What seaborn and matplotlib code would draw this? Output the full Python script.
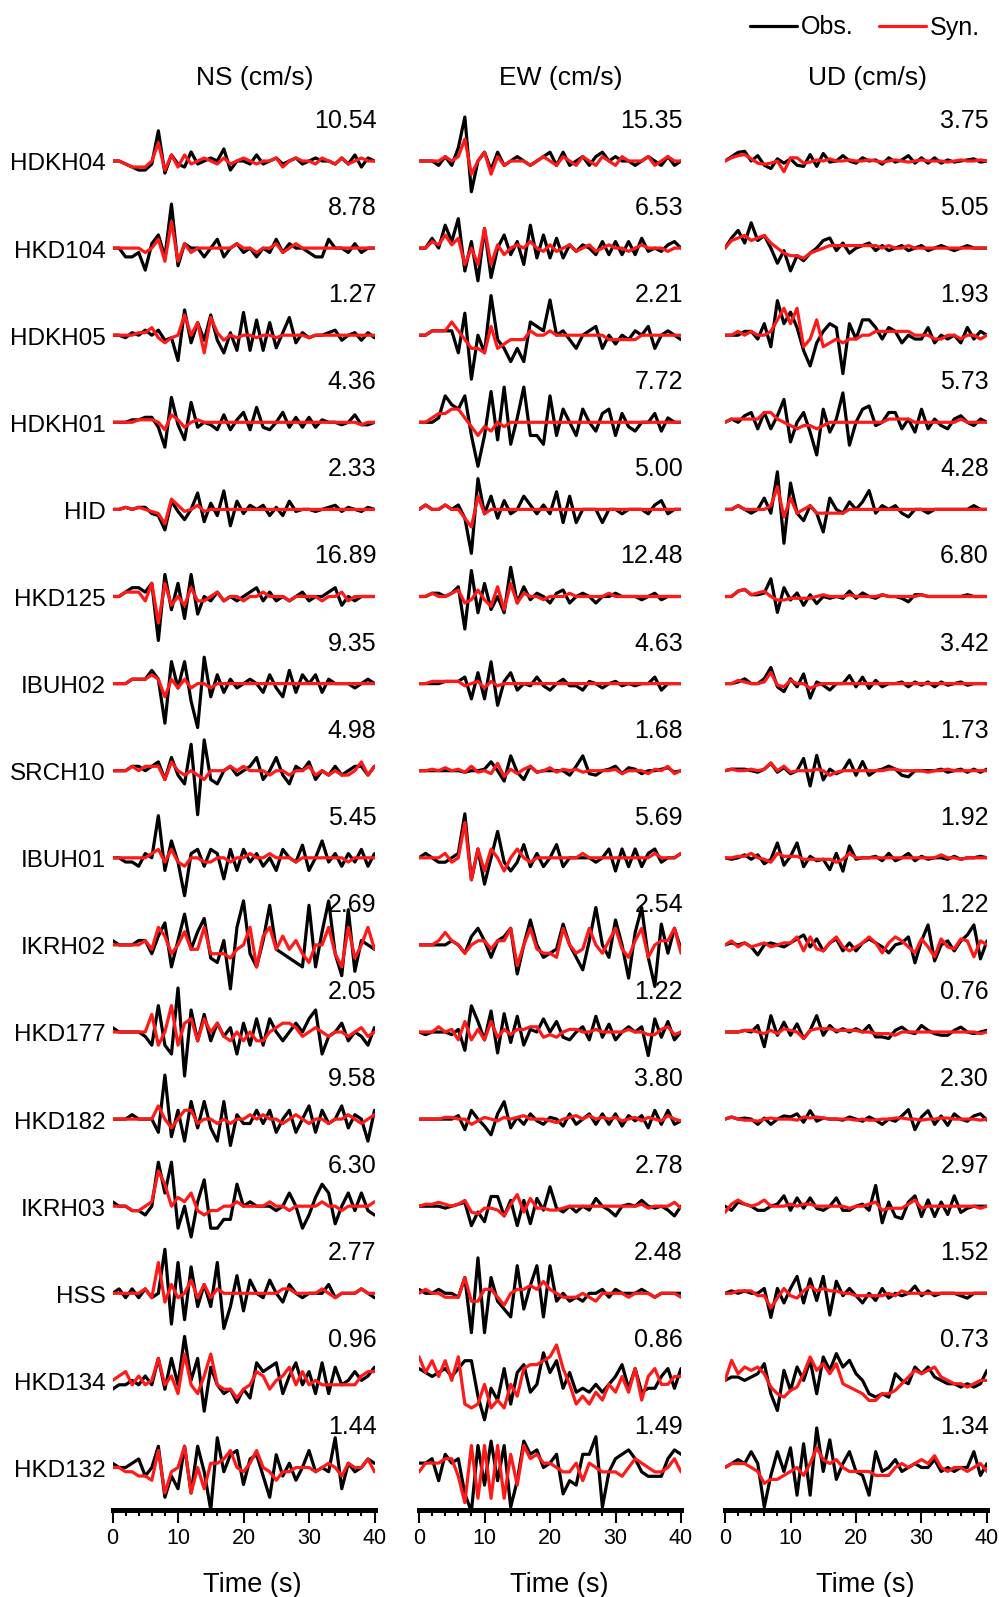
import numpy as np
import matplotlib
matplotlib.use('Agg')
import matplotlib.pyplot as plt
from matplotlib.lines import Line2D
import seaborn as sns

# stations (top to bottom) and peak obs amplitude of each component (cm/s)
stations = ['HDKH04', 'HKD104', 'HDKH05', 'HDKH01', 'HID', 'HKD125', 'IBUH02', 'SRCH10',
            'IBUH01', 'IKRH02', 'HKD177', 'HKD182', 'IKRH03', 'HSS', 'HKD134', 'HKD132']
peak_ns = [10.54, 8.78, 1.27, 4.36, 2.33, 16.89, 9.35, 4.98, 5.45, 2.69, 2.05, 9.58, 6.30, 2.77, 0.96, 1.44]
peak_ew = [15.35, 6.53, 2.21, 7.72, 5.00, 12.48, 4.63, 1.68, 5.69, 2.54, 1.22, 3.80, 2.78, 2.48, 0.86, 1.49]
peak_ud = [3.75, 5.05, 1.93, 5.73, 4.28, 6.80, 3.42, 1.73, 1.92, 1.22, 0.76, 2.30, 2.97, 1.52, 0.73, 1.34]

# waveforms, one value per second (0-40 s),
# in tenths of the trace's own obs peak
ns_obs = [
    [0,0,-1,-2,-3,-3,-1,10,-4,2,-1,-2,3,-1,0,1,0,4,-3,0,0,-1,2,-1,0,1,-1,0,1,-1,0,1,0,0,-1,1,-1,2,-2,1,0],
    [0,0,-2,-2,-1,-5,1,3,-2,10,-4,1,0,0,-2,0,2,-2,0,1,-1,0,-2,0,-1,2,-1,1,0,0,-1,-2,-2,2,0,0,-1,1,-1,0,0],
    [0,0,-1,1,0,2,0,2,-2,-1,-10,10,-3,5,-2,8,-2,-7,1,-6,9,-6,6,-6,5,-5,1,7,-3,1,-1,0,0,1,2,-2,0,1,-2,1,-1],
    [0,0,0,1,1,2,2,-2,-10,10,-1,-7,8,-2,0,-1,-3,3,-3,1,4,-3,6,-2,-3,0,4,-2,2,-2,2,-2,1,0,0,-1,0,3,-1,-1,0],
    [0,0,1,0,1,1,-2,-3,-10,4,-1,-5,0,8,-6,3,-3,9,-8,4,-2,2,0,2,-3,1,-3,4,-1,0,0,-1,0,1,2,-1,1,0,-1,1,0],
    [0,0,1,2,2,1,3,-10,5,-3,3,-5,5,-4,0,-1,1,-1,0,-1,0,1,2,-1,1,-1,0,-1,0,1,-1,0,0,1,2,-2,0,-1,0,0,0],
    [0,0,0,1,1,1,3,1,-9,5,-1,5,-4,-10,6,-3,2,-2,1,-1,0,1,0,-2,2,-1,-3,3,-2,2,0,2,-2,1,0,0,0,-1,0,1,0],
    [0,0,0,1,1,0,1,2,-2,3,-1,-3,6,-10,7,-2,-3,0,1,-1,0,1,3,-2,0,3,-1,-3,1,0,2,-2,0,-1,1,-1,0,1,1,-1,1],
    [0,0,-1,-1,-2,1,0,10,-3,4,-1,-9,1,2,-2,2,1,-5,2,-3,2,-1,1,-2,0,-3,2,0,-1,3,-3,0,4,-1,1,-2,1,-1,2,-2,1],
    [1,0,0,0,1,1,-2,2,5,-5,1,7,-1,3,6,-3,-4,1,-10,4,10,-2,-5,1,9,-1,-2,-3,-4,-5,9,-5,3,10,-2,-7,8,-6,1,0,-1],
    [1,0,0,0,0,-1,-3,6,-3,-5,10,-10,5,-2,4,-2,2,-1,1,-5,2,-3,3,-3,3,0,-2,0,2,0,3,5,-5,-1,0,2,-2,0,-1,-3,1],
    [0,0,0,1,0,0,0,-3,10,-4,2,-5,4,-2,4,-2,-5,4,-6,1,-1,-1,2,-1,2,-3,0,2,-3,0,3,-3,2,-1,0,3,-2,1,0,-5,2],
    [1,0,0,-1,-1,-2,0,10,3,10,-5,0,-7,1,6,-5,-5,-3,-3,5,0,1,0,0,0,-1,0,3,0,-5,-2,2,5,3,-4,0,3,-1,3,-1,-2],
    [0,1,-1,1,-1,1,-1,0,10,-7,7,-6,6,-3,2,-3,7,-8,-3,4,-4,3,0,-1,3,0,-2,2,0,-1,0,0,0,2,-1,0,0,0,1,0,-1],
    [-2,-1,-1,0,-1,1,-1,5,-2,5,-1,10,0,5,-7,3,-1,-3,-2,-5,-2,-4,4,2,3,4,-3,1,4,-1,2,-3,4,-3,3,-1,0,2,0,1,3],
    [1,0,0,1,2,-2,0,5,-7,-2,-5,5,-6,5,-1,-10,7,-1,3,4,-4,2,3,-2,-7,3,-2,1,-3,0,4,-1,0,-1,7,-5,1,-1,0,2,1],
]
ns_syn = [
    [0,0,-1,-2,-2,-2,0,6,-3,2,-2,2,-1,0,1,0,-1,1,-1,0,1,0,-1,0,0,1,-2,0,1,0,0,-1,1,0,-1,1,-1,0,1,0,0],
    [0,0,0,0,0,-1,0,2,-3,6,-3,1,-1,0,0,0,0,0,0,1,0,0,-1,0,0,1,-1,0,1,0,0,0,0,0,0,0,0,0,0,0,0],
    [0,0,0,0,1,1,3,-1,-3,-1,0,8,0,5,-7,7,1,-2,0,-1,0,0,-1,0,0,-1,0,0,0,0,-1,0,0,0,0,0,0,0,0,0,0],
    [0,0,0,0,1,1,1,0,-3,3,1,-2,0,1,0,0,0,0,0,0,0,0,0,0,0,0,0,0,0,0,0,0,0,0,0,0,0,0,-1,0,0],
    [0,0,1,0,1,0,-1,-2,-7,5,2,-1,0,2,-1,0,0,0,0,0,0,0,0,0,0,0,0,0,0,0,0,0,0,0,0,0,0,0,0,0,0],
    [0,0,1,1,1,-1,3,-6,3,-2,0,-2,2,-1,-1,0,1,-1,0,0,-1,0,0,1,0,0,0,-1,0,0,0,0,-1,0,0,1,-1,0,0,0,0],
    [0,0,0,1,1,1,2,1,-3,1,-1,1,-1,0,0,-1,0,0,0,0,0,0,0,0,0,0,0,0,0,0,0,0,0,0,0,0,0,0,0,0,0],
    [0,0,0,1,0,1,1,1,-2,2,0,-1,0,-1,-2,0,0,0,1,0,1,0,0,0,-1,0,0,-1,0,0,1,-1,0,-1,0,-1,-1,0,2,-1,1],
    [0,0,0,0,0,0,1,2,-1,2,-1,-2,0,0,-1,-1,0,0,-1,0,0,1,0,0,1,0,0,0,-1,0,0,0,0,0,0,0,-1,0,0,0,0],
    [0,0,0,0,0,1,-1,4,2,-2,0,3,-1,-1,4,-2,-2,-2,-3,-1,0,4,-5,2,4,-1,2,-1,1,-2,-4,0,0,4,-2,-5,4,-3,0,4,-1],
    [0,0,0,0,0,0,4,-3,0,6,-3,2,3,-2,3,0,2,-1,-2,0,-2,0,-2,-2,0,1,2,2,1,-1,0,1,0,-1,0,0,-1,0,1,-1,0],
    [0,0,0,0,0,0,0,3,0,-2,0,2,2,-1,0,0,-1,0,-1,0,0,1,0,1,0,0,-1,0,1,0,-1,0,0,-1,0,0,1,0,-1,0,1],
    [0,0,0,-1,-1,0,1,8,5,0,2,1,3,-1,-2,-1,-1,0,0,1,0,0,0,0,1,0,0,-1,0,0,0,0,1,0,0,-1,0,0,0,0,1],
    [0,0,0,0,0,1,-1,7,-2,2,-1,0,3,-1,2,-1,1,0,0,0,0,0,0,0,0,0,1,1,0,0,0,0,1,0,-1,0,0,0,1,0,0],
    [0,1,2,-1,1,-1,0,5,-1,1,-3,6,-1,-3,1,6,-1,-2,-2,-4,-2,-1,2,1,-2,0,1,3,-1,2,-1,0,-1,-1,-1,-1,-1,-1,1,2,2],
    [0,0,-1,-1,-2,-2,-3,4,-6,-1,0,5,-6,0,-5,1,1,2,4,0,-1,1,4,0,-1,-3,-1,-1,0,0,0,-1,0,1,0,-2,1,0,0,2,-1],
]
ew_obs = [
    [0,0,0,-1,1,-1,3,10,-7,0,2,-2,2,-1,0,1,0,-1,0,1,2,-1,2,-1,0,1,-1,1,2,0,1,0,0,-1,0,1,0,-1,1,-1,0],
    [0,0,3,0,7,2,9,-7,2,-10,6,-9,0,4,-2,2,-5,7,-3,4,-3,3,-3,1,-1,1,0,-2,2,-2,2,-2,2,-2,3,-1,0,-1,1,2,0],
    [0,0,1,1,1,1,-4,5,-10,0,-4,9,-1,-3,-6,-3,-6,3,2,1,8,0,1,-1,-3,0,1,2,-3,0,-2,0,-1,1,0,2,-3,0,1,0,-1],
    [0,0,0,1,6,4,3,6,-3,-10,-3,7,-4,8,-5,1,8,-3,-3,-5,6,-3,3,0,-3,3,0,-2,2,3,-3,2,-1,-2,0,0,2,-2,1,0,0],
    [0,1,0,0,1,0,1,-2,-10,7,-1,3,-2,2,-1,0,3,1,-1,1,-1,4,-3,3,-3,0,0,0,-3,0,0,-1,0,0,0,-1,1,2,-1,0,0],
    [0,0,1,1,0,1,3,-10,8,-5,4,-4,0,-5,9,-2,3,-1,1,0,-2,1,2,-2,0,1,0,-2,0,0,1,0,0,0,-1,0,1,-1,0,0,0],
    [0,0,0,0,1,1,1,3,-7,5,-7,10,-10,1,5,-3,0,-1,3,-1,-3,0,2,-1,-1,-3,1,0,-2,0,1,-1,0,-1,0,0,3,-3,0,0,0],
    [0,0,0,0,0,0,0,-1,0,0,1,6,0,-7,10,-1,-6,3,-1,0,0,0,0,-3,3,10,-2,-3,0,1,3,-2,2,1,-2,0,0,1,2,-1,0],
    [0,1,0,-1,-1,0,1,10,-5,2,-6,0,6,-1,-3,-1,3,-2,1,-2,0,3,-2,0,0,0,0,-1,0,2,-3,2,-2,2,-2,1,2,-1,0,0,1],
    [0,0,0,0,0,1,0,-2,2,4,1,-3,1,2,4,-7,0,6,0,-3,-2,-1,5,0,-3,-6,1,9,0,-3,6,0,-8,3,9,-3,-10,5,-2,4,-1],
    [0,-1,0,0,0,-1,1,-7,10,4,-3,8,-8,7,-4,6,-5,1,0,5,0,4,-2,-3,0,2,-3,6,-2,3,-3,0,2,0,2,-9,5,-2,4,-3,0],
    [0,0,0,0,0,0,2,-6,5,0,-4,-9,3,10,-5,1,-3,3,-1,-3,1,0,-4,3,-3,0,3,-3,3,-3,3,-4,2,-1,2,-5,5,-3,5,-3,-1],
    [0,0,0,0,-1,0,1,2,-10,-3,-8,5,5,-5,3,-10,3,-9,4,-2,10,-1,-3,0,-3,0,-2,4,0,-2,-5,0,1,0,3,0,-1,0,-2,-5,0],
    [1,0,0,1,0,0,-1,4,-10,9,-10,4,-2,-4,-6,7,-4,2,7,-6,7,-2,0,-2,-1,-2,0,0,1,-1,1,0,0,0,1,0,-1,0,0,0,0],
    [3,2,1,2,3,1,3,5,5,-4,-10,-2,-5,3,-6,2,4,-3,-1,7,2,5,-2,2,-3,-2,-3,-1,-3,-1,1,4,-2,3,-3,-2,-2,1,3,-2,3],
    [1,1,2,-3,3,1,2,-6,-10,5,-4,6,-3,5,-9,-3,6,3,4,0,1,3,-6,-3,-4,3,3,7,-9,-1,2,3,4,2,-1,-2,-2,-2,2,4,3],
]
ew_syn = [
    [0,0,0,0,1,0,1,5,-3,0,2,-3,1,-1,0,0,0,-1,0,1,0,-1,1,0,-1,1,0,-1,1,0,-1,1,0,0,0,1,-1,0,1,0,0],
    [0,0,2,1,4,1,3,-5,0,-5,6,-5,1,-2,0,1,0,2,0,-1,1,-1,0,1,-1,0,1,-1,0,1,0,0,-1,0,1,0,0,0,-1,0,0],
    [0,0,1,1,1,3,1,-1,-3,-3,-4,2,-3,-2,-1,-1,-1,1,0,0,1,0,0,0,0,0,0,0,0,-1,-1,-1,-1,-1,0,0,0,0,0,0,0],
    [0,0,1,2,2,3,3,1,-1,-3,-1,-2,0,-1,0,0,0,0,0,0,0,0,0,0,0,0,0,0,0,0,0,0,0,0,0,0,0,0,0,0,0],
    [0,1,0,0,1,0,0,-2,-4,3,-1,0,0,0,0,0,0,0,0,0,0,0,0,0,0,0,0,0,0,0,0,0,0,0,0,0,0,0,0,0,0],
    [0,0,1,0,0,1,2,-2,-1,2,-1,-3,3,-4,4,-2,1,0,0,-1,0,0,0,1,0,0,0,0,0,1,0,0,0,0,0,0,0,0,0,0,0],
    [0,0,1,1,1,1,1,-1,0,1,-2,1,-1,0,0,0,0,0,0,0,0,0,0,0,0,0,0,0,0,0,0,0,0,0,0,0,0,0,0,0,0],
    [0,0,1,0,2,0,1,-1,3,-1,0,-2,5,-4,1,-2,1,3,-1,0,2,-1,1,0,1,-1,0,0,0,0,1,-2,0,0,0,-2,1,0,3,-2,0],
    [0,0,0,0,1,-1,0,8,-5,2,-3,2,0,-3,0,2,0,-1,0,0,0,0,0,0,0,1,0,0,0,0,0,0,0,0,0,0,1,0,0,0,1],
    [0,0,0,1,3,1,0,-2,0,1,1,-1,1,1,4,-5,0,4,-1,-2,-2,-3,4,0,-2,-1,4,0,-2,1,4,-1,-3,1,4,-3,0,1,1,4,-2],
    [0,0,0,2,0,1,-3,4,-3,1,-3,4,-2,1,-1,1,1,2,2,-2,-1,-2,0,1,1,0,0,1,0,0,0,0,1,0,0,-1,-1,1,2,-1,0],
    [0,0,0,0,1,1,0,0,-3,-1,1,0,-1,1,0,1,2,0,0,0,-1,-2,0,1,2,0,2,0,1,0,1,-1,0,1,-1,1,0,-1,2,0,-1],
    [0,1,1,2,1,0,1,3,-3,-4,-1,-1,-2,-5,1,6,-3,4,-1,-1,-2,-2,-1,0,0,0,0,0,0,0,0,0,0,0,1,-1,0,0,0,2,-1],
    [0,1,0,0,-1,-1,-1,4,-2,-2,1,1,-1,-3,0,1,1,2,1,3,1,0,-1,-1,-1,0,-1,-2,0,0,0,0,-1,0,0,0,-1,0,0,0,-1],
    [6,2,5,1,5,0,6,-6,-7,-6,-1,-7,-5,-7,-1,-4,3,4,4,5,6,9,3,-1,-6,-4,-6,-3,-5,-1,-3,1,-3,3,-5,1,3,-1,-1,1,1],
    [-1,1,1,1,2,2,-2,-8,5,-7,5,-7,5,-7,3,-4,5,2,3,1,1,0,-1,-1,1,-3,1,0,-1,-1,-1,-2,0,2,1,0,-1,-1,0,2,-1],
]
ud_obs = [
    [0,4,8,9,0,5,-4,-7,2,-2,2,-4,-5,6,-5,7,-1,0,5,0,-2,3,0,1,-3,3,-1,1,5,-2,3,-2,3,-2,1,-1,0,1,2,-1,0],
    [0,4,7,2,10,3,5,0,-6,-1,-9,-3,-5,-2,0,3,4,-1,2,-2,0,1,2,-1,1,-1,0,1,-1,0,1,-1,0,1,0,-1,0,1,0,0,0],
    [0,0,0,1,1,-1,3,-3,9,3,6,2,-4,-8,-2,1,3,2,-10,3,-1,4,4,2,-1,2,1,-2,0,-1,-1,2,-2,0,-1,0,-2,2,-1,1,0],
    [0,1,0,2,3,-2,3,-2,2,7,-6,0,3,-3,-10,4,-3,1,9,-7,0,4,5,-1,0,3,3,-2,1,-3,4,-2,1,-1,-2,1,2,0,-1,1,0],
    [0,0,1,0,-1,0,3,-1,10,-9,7,-1,-3,1,-1,-6,3,0,-1,2,0,2,5,-1,1,0,1,-1,-2,0,0,-1,0,0,0,0,0,0,1,0,0],
    [0,0,3,4,1,1,2,10,-9,5,-2,2,-5,1,-4,0,-1,0,-1,3,-1,2,0,-1,1,0,0,-1,-3,1,1,0,0,0,0,0,0,1,0,0,0],
    [0,0,1,3,0,0,3,10,-2,-5,3,-2,6,-9,1,-1,-4,0,0,5,-2,4,-3,2,-2,0,0,1,-2,1,-1,1,-2,1,-1,0,1,-1,0,0,0],
    [0,1,1,1,0,-1,1,5,-1,2,-2,0,8,-10,10,-6,1,-2,0,7,-3,6,-3,0,1,3,1,-3,-4,0,0,0,0,1,-1,0,1,-1,1,-1,1],
    [0,-1,0,2,-1,2,-4,-1,10,-5,1,10,-6,1,-2,-1,-8,3,-9,8,-1,0,0,1,-2,3,-2,0,3,-2,1,-1,0,0,-1,1,-1,0,0,1,0],
    [0,1,0,1,-1,-5,0,1,0,-1,1,3,5,-1,3,-3,1,3,-3,1,-3,1,3,1,-1,-4,0,1,4,-9,2,10,-8,0,2,-3,2,5,10,-7,2],
    [0,0,0,1,0,4,-9,10,-2,6,-2,5,-4,1,10,-2,4,0,2,0,2,0,4,-3,-3,-4,1,3,0,-1,4,1,-1,-2,-2,1,3,0,-1,0,1],
    [0,2,0,1,0,-5,1,-5,0,3,2,5,-3,8,-2,1,0,0,-1,2,0,-2,2,-1,-5,0,-2,3,9,-10,2,8,-5,3,-6,5,0,-2,3,5,-1],
    [0,-2,2,1,0,-2,-2,0,1,5,-2,4,-1,4,-1,-2,0,4,-2,-2,0,1,-2,10,-8,2,-5,-6,2,5,-5,3,-5,2,-4,5,-3,-1,0,0,0],
    [0,1,0,1,0,0,2,-10,2,-4,2,7,-4,6,-3,7,-9,5,-1,2,-1,-4,0,-3,2,-2,0,-1,0,3,-1,1,-1,0,0,0,-1,-2,0,0,0],
    [0,1,1,0,1,2,5,-4,-9,3,-3,4,0,6,-4,7,3,8,4,6,2,0,-4,-5,-4,-5,2,0,-1,4,2,4,1,0,-1,-1,-2,-1,-2,-1,3],
    [0,1,2,1,4,1,-10,-2,4,-1,5,-7,6,-7,10,-1,7,-3,1,4,-1,-2,-7,4,-1,0,2,-1,0,1,0,0,2,-1,0,-1,0,0,4,-2,1],
]
ud_syn = [
    [0,3,5,6,2,-2,-3,-2,0,-10,3,3,-2,-1,1,0,2,0,0,1,0,0,1,0,-1,0,1,0,-1,0,1,0,0,0,-1,0,1,0,0,1,0],
    [0,3,4,5,3,4,5,2,0,-2,-3,-3,-4,-2,-1,0,1,1,1,1,1,1,1,1,0,1,0,0,1,0,0,0,0,0,0,0,0,0,0,0,0],
    [0,0,1,0,1,0,0,1,4,7,3,7,-3,-1,4,-3,-2,-1,-2,-1,-1,0,0,1,1,1,1,1,1,0,0,0,-1,-1,0,0,-1,0,0,-1,0],
    [0,1,1,1,1,1,3,3,1,0,-1,-2,-1,-1,-2,-1,0,0,0,0,0,0,0,0,0,1,1,1,1,0,0,0,0,0,0,0,1,0,0,0,0],
    [0,0,1,0,0,0,0,1,6,-2,3,-1,0,1,-1,-1,-1,-1,-1,0,0,0,0,0,0,0,0,0,0,0,0,0,0,0,0,0,0,0,0,0,0],
    [0,0,3,4,1,2,3,0,-2,-2,-1,-1,-1,-1,0,1,0,0,0,1,0,0,0,0,1,0,0,0,0,0,1,0,0,0,0,0,0,0,0,0,0],
    [0,0,2,1,0,0,1,7,-1,-2,2,0,0,-3,-1,0,0,0,0,0,0,0,0,0,0,0,0,0,0,0,0,0,0,0,0,0,0,0,0,0,0],
    [0,1,0,0,1,0,1,5,0,3,-1,0,0,0,1,0,-3,-1,0,0,0,0,0,0,0,1,1,0,0,0,0,-1,0,0,1,0,0,0,0,0,0],
    [0,0,1,1,3,0,-1,-3,3,1,1,1,-1,-1,-1,-1,-1,-3,-1,3,0,0,0,0,0,0,0,0,0,0,0,0,0,2,0,0,-1,0,0,0,0],
    [0,2,-1,1,-1,0,1,-1,0,1,1,4,-3,4,-2,-3,1,4,-1,-3,-1,1,4,1,-4,1,4,2,-1,-4,3,-1,-6,3,-1,-2,3,2,-6,2,0],
    [0,0,0,1,1,0,-1,1,-1,2,1,0,-4,1,2,2,2,1,1,1,1,0,0,-1,-1,-1,-2,0,0,0,0,0,0,0,0,0,0,0,0,-1,0],
    [0,2,0,-1,-1,-2,0,1,0,0,0,-1,2,1,2,1,0,0,0,0,-1,0,-1,-1,0,0,1,1,0,0,-1,0,0,1,1,0,0,0,0,-1,0],
    [-3,1,3,1,0,1,3,0,0,0,1,0,1,1,0,0,0,0,0,-1,0,0,1,2,-2,-1,-1,-1,1,3,-1,0,0,0,0,0,0,0,0,-1,0],
    [0,0,1,1,1,-1,-1,-6,-2,2,-1,-2,1,3,1,2,1,1,0,0,-1,-1,-1,-1,-1,0,-1,1,0,0,0,0,0,0,0,0,0,0,0,0,0],
    [0,6,2,4,3,4,2,-2,-4,-5,-3,-2,2,7,3,5,2,5,-1,-2,-3,-4,-6,-6,-4,-4,-3,-1,1,3,2,3,4,1,0,-1,-1,-2,-1,0,0],
    [0,1,1,1,0,-1,-4,-3,-3,-2,-1,0,-2,1,5,2,1,2,0,-1,-1,-1,-1,-2,-2,-2,0,1,0,1,2,1,3,0,-1,0,0,-1,0,1,-1],
]

sns.set_style('white')
plt.rcParams['font.family'] = ['Liberation Sans', 'DejaVu Sans']
plt.rcParams.update({'text.color': 'black', 'axes.edgecolor': 'black',
                     'xtick.color': 'black', 'xtick.labelcolor': 'black'})

W, H = 999, 1597
fig = plt.figure(figsize=(W / 100, H / 100), dpi=100)

# every station is scaled by the largest of its three peaks
station_max = [max(a, b, c) for a, b, c in zip(peak_ns, peak_ew, peak_ud)]
amp = 0.505          # half-height of the biggest trace, in row units
row_px, first_px, axis_px, top_px = 87.1, 161.0, 1510.0, 60.0
y_low = -(axis_px - first_px) / row_px
y_high = (first_px - top_px) / row_px

columns = [
    ('NS (cm/s)', peak_ns, ns_obs, ns_syn, 112.5),
    ('EW (cm/s)', peak_ew, ew_obs, ew_syn, 419),
    ('UD (cm/s)', peak_ud, ud_obs, ud_syn, 725),
]

for c, (title, peaks, obs, syn, left_px) in enumerate(columns):
    ax = fig.add_axes([left_px / W, 1 - axis_px / H, 262 / W, (axis_px - top_px) / H])
    for k in range(len(stations)):
        scale = peaks[k] / station_max[k] * amp / 10
        t = np.linspace(0, 40, len(obs[k]))
        sns.lineplot(x=t, y=-k + np.array(obs[k]) * scale, ax=ax, color='black',
                     lw=2.3, estimator=None, sort=False)
        t = np.linspace(0, 40, len(syn[k]))
        sns.lineplot(x=t, y=-k + np.array(syn[k]) * scale, ax=ax, color='#ff1a1a',
                     lw=2.3, estimator=None, sort=False)
        ax.text(40.3, -k + 0.46, f'{peaks[k]:.2f}', ha='right', va='center', fontsize=18)
        if c == 0:
            ax.text(-1.0, -k - 0.04, stations[k], ha='right', va='center', fontsize=17.5)

    ax.set_xlim(0, 40)
    ax.set_ylim(y_low, y_high)
    for s in ['left', 'top', 'right']:
        ax.spines[s].set_visible(False)
    ax.spines['bottom'].set_linewidth(3.6)
    ax.set_yticks([])
    ax.set_xticks(range(0, 41, 10))
    ax.set_xticks(range(0, 41, 2), minor=True)
    ax.tick_params(axis='x', which='both', bottom=True, direction='out', width=1.5, colors='black')
    ax.tick_params(axis='x', which='major', length=9.5, labelsize=15.5, pad=3.5)
    ax.tick_params(axis='x', which='minor', length=4.5)
    ax.set_xlabel('')
    ax.set_ylabel('')
    ax.set_facecolor('none')
    ax.text(21.7, 0.954, title, ha='center', va='center', fontsize=19)
    ax.text(21.4 / 40, -0.052, 'Time (s)', transform=ax.transAxes,
            ha='center', va='center', fontsize=19.5)

handles = [Line2D([], [], color='black', lw=2.3), Line2D([], [], color='#ff1a1a', lw=2.3)]
fig.legend(handles, ['Obs.', 'Syn.'], loc='center right', bbox_to_anchor=(0.981, 1 - 27.5 / H),
           ncol=2, frameon=False, fontsize=18, handlelength=1.9, handletextpad=0.15,
           columnspacing=1.0, borderaxespad=0, borderpad=0)

fig.savefig('out.png', dpi=100, facecolor='white')
